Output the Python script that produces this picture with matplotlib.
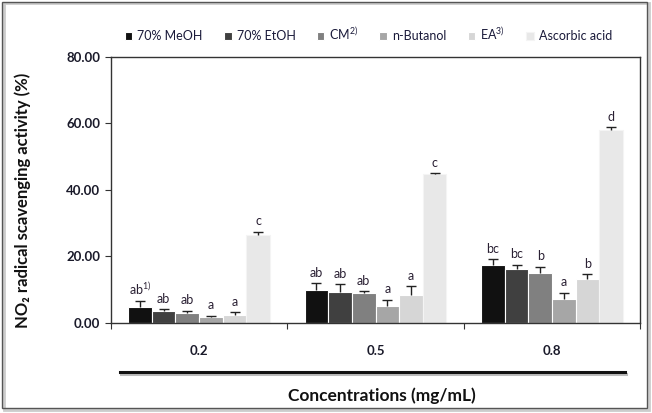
import matplotlib
matplotlib.use('Agg')
import matplotlib.pyplot as plt
import numpy as np
from matplotlib.lines import Line2D
from matplotlib.patches import Rectangle

plt.rcParams['font.family'] = ['Lato', 'DejaVu Sans']
plt.rcParams['mathtext.fontset'] = 'custom'
plt.rcParams['mathtext.rm'] = 'Lato'
plt.rcParams['mathtext.it'] = 'Lato:italic'
plt.rcParams['mathtext.bf'] = 'Lato:bold'

concentrations = ['0.2', '0.5', '0.8']
solvents = ['70% MeOH', '70% EtOH', 'CM$^{2)}$', 'n-Butanol', 'EA$^{3)}$', 'Ascorbic acid']
colors = ['#111111', '#404040', '#808080', '#a6a6a6', '#d6d6d6', '#e8e8e8']
edges = ['#ffffff', '#ffffff', '#ffffff', '#ffffff', '#ffffff', '#f4f4f4']

# activity (%) per solvent, one value per concentration
meoh = [4.7, 10.0, 17.5]
etoh = [3.5, 9.2, 16.1]
cm = [3.1, 8.9, 15.1]
butanol = [1.7, 5.0, 7.1]
ea = [2.3, 8.3, 13.1]
ascorbic = [26.5, 44.7, 57.9]
values = [meoh, etoh, cm, butanol, ea, ascorbic]

meoh_err = [1.8, 2.0, 1.7]
etoh_err = [0.6, 2.5, 1.4]
cm_err = [0.6, 0.6, 1.8]
butanol_err = [0.5, 2.0, 2.0]
ea_err = [1.0, 2.7, 1.6]
ascorbic_err = [1.0, 0.3, 1.0]
errors = [meoh_err, etoh_err, cm_err, butanol_err, ea_err, ascorbic_err]

letters = [['ab$^{1)}$', 'ab', 'bc'],
           ['ab', 'ab', 'bc'],
           ['ab', 'ab', 'b'],
           ['a', 'a', 'a'],
           ['a', 'a', 'b'],
           ['c', 'c', 'd']]

fig = plt.figure(figsize=(6.52, 4.13), dpi=100)
ax = fig.add_axes([0.170, 0.218, 0.812, 0.644])

x = np.arange(len(concentrations))
w = 0.134
for i in range(len(solvents)):
    pos = x + (i - 2.5) * w
    top = np.array(values[i]) + np.array(errors[i])
    ax.bar(pos, values[i], w, color=colors[i], edgecolor=edges[i], linewidth=0.8,
           label=solvents[i], zorder=2)
    # upper error bar only, cap on top
    ax.vlines(pos, values[i], top, color='#222222', lw=1.0, zorder=3)
    ax.plot(pos, top, ls='none', marker='_', ms=7, mew=1.0, color='#222222', zorder=3)
    for j in range(3):
        ax.text(pos[j], top[j] + 1.3, letters[i][j],
                ha='center', va='bottom', fontsize=9, color='#2a2033')

ax.set_xlim(-0.5, 2.5)
ax.set_ylim(0, 80)
ax.set_yticks(np.arange(0, 81, 20))
ax.set_yticklabels(['%.2f' % v for v in np.arange(0, 81, 20)], fontweight='bold',
                   fontsize=9.5, color='#1a1a2a')
ax.set_xticks([-0.5, 0.5, 1.5, 2.5])
ax.set_xticklabels([])
ax.set_xticks(x, minor=True)
ax.set_xticklabels(concentrations, minor=True, fontweight='bold', fontsize=9.5,
                   color='#1a1a2a')
ax.tick_params(axis='x', which='minor', length=0, pad=16)
ax.tick_params(axis='x', which='major', direction='out', length=4, color='#333333')
ax.tick_params(axis='y', direction='out', length=4, color='#333333')
for s in ax.spines.values():
    s.set_color('#333333')
    s.set_linewidth(1.0)

ax.set_ylabel('NO\u2082 radical scavenging activity (%)', fontweight='bold',
              fontsize=12, color='#111111')
ax.yaxis.set_label_coords(-0.15, 0.46)

fig.text(0.585, 0.043, 'Concentrations (mg/mL)', ha='center', va='center',
         fontweight='bold', fontsize=12.5, color='#111111')

# underline below the tick labels, with a soft shadow
fig.add_artist(Line2D([0.186, 0.960], [0.094, 0.094], color='#bbbbbb', lw=2.2))
fig.add_artist(Line2D([0.184, 0.958], [0.099, 0.099], color='#111111', lw=2.2))

leg = fig.legend(loc='center', bbox_to_anchor=(0.565, 0.918), ncol=6, frameon=False,
                 fontsize=9, handlelength=0.6, handleheight=0.6, handletextpad=0.4,
                 columnspacing=1.7)
for t in leg.get_texts():
    t.set_color('#1a1a3a')

# figure border with shadow
fig.add_artist(Rectangle((0.006, 0.008), 0.99, 0.985, transform=fig.transFigure,
                         fill=False, edgecolor='#cccccc', lw=2.0))
fig.add_artist(Rectangle((0.003, 0.012), 0.99, 0.983, transform=fig.transFigure,
                         fill=False, edgecolor='#555555', lw=1.0))

fig.savefig('out.png', dpi=100)
